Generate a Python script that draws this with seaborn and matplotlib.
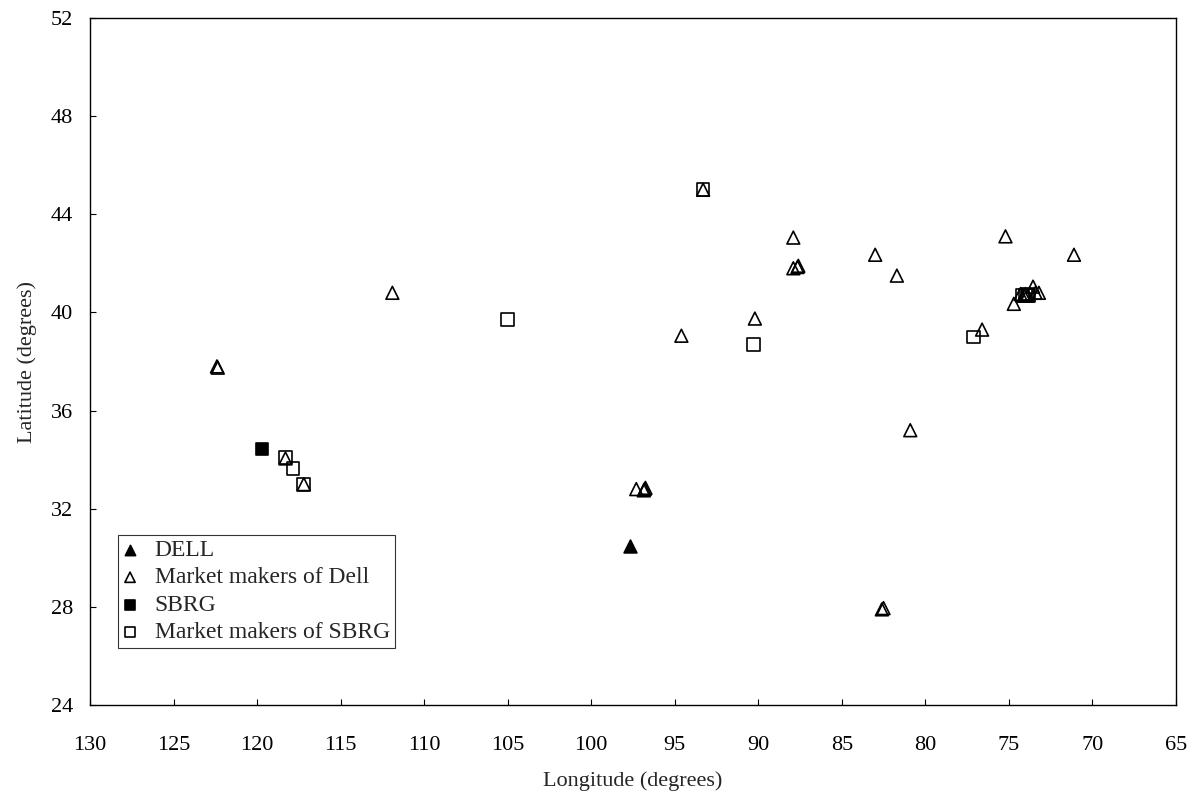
import pandas as pd
import matplotlib
matplotlib.use("Agg")
import matplotlib.pyplot as plt
import seaborn as sns

# DELL headquarters
dell_lon = [97.7]
dell_lat = [30.5]

# market makers of Dell
mm_dell_lon = [122.4, 122.35, 111.9, 118.3, 117.2, 97.3, 96.8, 96.75, 96.85, 94.6,
               93.3, 90.2, 87.9, 87.9, 87.6, 87.65, 83.0, 81.7, 82.6, 82.5,
               80.9, 76.6, 75.2, 74.7, 74.3, 74.1, 74.0, 73.9, 73.55, 73.4,
               73.2, 71.1]
mm_dell_lat = [37.8, 37.75, 40.8, 34.05, 33.0, 32.8, 32.8, 32.85, 32.75, 39.05,
               45.0, 39.75, 43.05, 41.8, 41.9, 41.85, 42.35, 41.5, 27.9, 27.95,
               35.2, 39.3, 43.1, 40.35, 40.75, 40.7, 40.75, 40.7, 41.05, 40.8,
               40.8, 42.35]

# SBRG headquarters
sbrg_lon = [119.7]
sbrg_lat = [34.45]

# market makers of SBRG
mm_sbrg_lon = [93.3, 105.0, 90.3, 118.3, 117.85, 117.2, 77.1, 74.2, 74.0, 73.9, 73.8]
mm_sbrg_lat = [45.0, 39.7, 38.7, 34.1, 33.65, 33.0, 39.0, 40.7, 40.7, 40.75, 40.7]

sns.set_style("white")
plt.rcParams["font.family"] = ["Liberation Serif", "DejaVu Serif"]

fig = plt.figure(figsize=(11.95, 7.99), dpi=100)
ax = fig.add_axes([0.0753, 0.1176, 0.9087, 0.8599])

ms = 85
lw = 1.2
sns.scatterplot(x=dell_lon, y=dell_lat, marker="^", s=ms, color="black",
                edgecolor="black", linewidth=lw, label="DELL", ax=ax, zorder=4)
sns.scatterplot(x=mm_dell_lon, y=mm_dell_lat, marker="^", s=ms, facecolor="none",
                edgecolor="black", linewidth=lw, label="Market makers of Dell", ax=ax, zorder=3)
sns.scatterplot(x=sbrg_lon, y=sbrg_lat, marker="s", s=ms, color="black",
                edgecolor="black", linewidth=lw, label="SBRG", ax=ax, zorder=4)
sns.scatterplot(x=mm_sbrg_lon, y=mm_sbrg_lat, marker="s", s=ms, facecolor="none",
                edgecolor="black", linewidth=lw, label="Market makers of SBRG", ax=ax, zorder=3)

ax.set_xlim(130, 65)
ax.set_ylim(24, 52)
ax.set_xticks(range(130, 64, -5))
ax.set_yticks(range(24, 53, 4))

for side in ["top", "right", "bottom", "left"]:
    ax.spines[side].set_visible(True)
    ax.spines[side].set_color("black")
    ax.spines[side].set_linewidth(1.0)

ax.tick_params(axis="both", direction="in", length=4, width=0.8, colors="black",
               labelsize=16, bottom=True, left=True, top=False, right=False)
ax.tick_params(axis="x", pad=22)
ax.tick_params(axis="y", pad=12)

ax.set_xlabel("Longitude (degrees)", fontsize=16, labelpad=12)
ax.set_ylabel("Latitude (degrees)", fontsize=16, labelpad=10)
ax.grid(False)

leg = ax.legend(loc="lower left", bbox_to_anchor=(0.026, 0.083), borderaxespad=0,
                fontsize=17, frameon=True, fancybox=False, edgecolor="black",
                markerscale=0.8, handlelength=0.6, handletextpad=0.75,
                labelspacing=0.25, borderpad=0.2)
leg.get_frame().set_linewidth(0.8)

fig.savefig("out.png", dpi=100)
